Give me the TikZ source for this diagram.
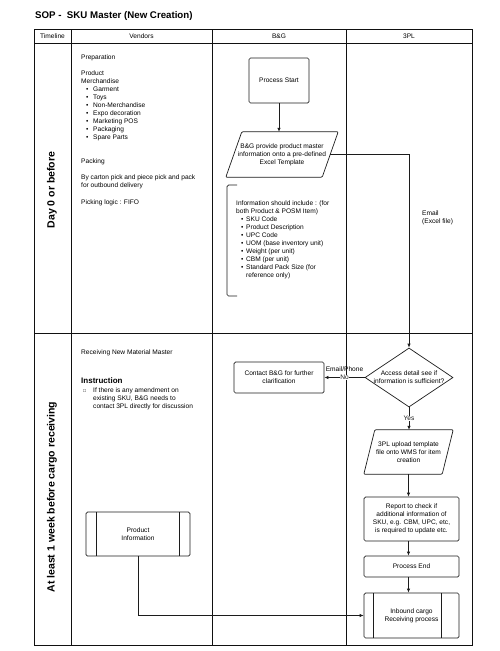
\documentclass[tikz,border=0pt]{standalone}
\usepackage{fontspec}
\setmainfont{Liberation Sans}
\usetikzlibrary{arrows.meta,positioning,calc,shapes.geometric}
\definecolor{LaneInk}{HTML}{111111}
\definecolor{ShapeInk}{HTML}{1C1C1C}
\newcommand{\itm}[2][7pt]{\hspace*{5pt}\makebox[#1][l]{\textbullet}#2}
\newcommand{\itmcont}[2][12pt]{\hspace*{#1}#2}
\newcommand{\ioframe}[2]{\draw[flow,rounded corners=1pt] ([xshift=#2]#1.north west)
  -- ([xshift=#2]#1.north east) -- ([xshift=-#2]#1.south east)
  -- ([xshift=-#2]#1.south west) -- cycle;}

\begin{document}
\begin{tikzpicture}[x=1pt,y=-1pt,>={Latex[length=4pt,width=3.5pt]},
  every node/.style={font=\fontsize{6.6}{8}\selectfont},
  note/.style={anchor=north west,align=left,inner sep=0pt},
  lane/.style={LaneInk,line width=.8pt},
  flow/.style={ShapeInk,line width=.7pt},
  timelbl/.style={rotate=90,font=\bfseries\fontsize{10.5}{12}\selectfont},
  procbox/.style={draw=ShapeInk,line width=.7pt,rounded corners=1.5pt,align=center},
  iobox/.style={align=center,inner sep=1pt},
  subproc/.style 2 args={procbox,path picture={
    \draw[ShapeInk,line width=.7pt] ([xshift=#1]path picture bounding box.north west)
      -- ([xshift=#1]path picture bounding box.south west);
    \draw[ShapeInk,line width=.7pt] ([xshift=-#2]path picture bounding box.north east)
      -- ([xshift=-#2]path picture bounding box.south east);}},
  lbl/.style={fill=white,inner sep=.6pt}]
  \useasboundingbox (0,0) rectangle (500,651);

  \node[anchor=west,inner sep=0pt,font=\bfseries\fontsize{9.7}{11}\selectfont] (title) at (35,16)
    {SOP -\ \ SKU Master (New Creation)};

  % swimlanes
  \draw[lane] (34,29) rectangle (472,645);
  \draw[lane] (34,43) -- (472,43);
  \draw[lane] (34,333) -- (472,333);
  \foreach \x in {71,212,346}
    \draw[lane] (\x,29) -- (\x,645);
  \node (hdtime) at (52.5,36) {Timeline};
  \node (hdvend) at (141.5,36) {Vendors};
  \node (hdbg) at (279,36) {B\&G};
  \node (hd3pl) at (409,36) {3PL};
  \node[timelbl] (dayzero) at (52,190) {Day 0 or before};
  \node[timelbl] (weekbefore) at (52,497) {At least 1 week before cargo receiving};

  % vendor notes
  \node[note] (vendnote) at (81,55) {Preparation\\[8pt]
    Product\\Merchandise\\\itm{Garment}\\\itm{Toys}\\\itm{Non-Merchandise}\\
    \itm{Expo decoration}\\\itm{Marketing POS}\\\itm{Packaging}\\\itm{Spare Parts}\\[16pt]
    Packing\\[8pt]
    By carton pick and piece pick and pack\\for outbound delivery\\[9pt]
    Picking logic : FIFO};
  \node[note] (recvnote) at (81,350) {Receiving New Material Master};
  \node[note,font=\bfseries\fontsize{8}{9}\selectfont] (instr) at (81,377) {Instruction};
  \node[note] (amend) at (81,388) {\makebox[12pt][l]{\hspace*{2pt}{\fontsize{5}{5}\selectfont □}}If there is any amendment on\\
    \itmcont{existing SKU, B\&G needs to}\\\itmcont{contact 3PL directly for discussion}};

  % B&G lane
  \node[procbox,minimum width=60,minimum height=45] (start) at (279,80.5) {Process Start};
  \node[iobox,minimum width=96,minimum height=45] (bginfo) at (282,154.5)
    {B\&G provide product master\\information onto a pre-defined\\Excel Template};
  \ioframe{bginfo}{8pt}
  \node[note] (infolist) at (236,201) {Information should include : (for\\both Product \& POSM Item)\\
    \itm[5pt]{SKU Code}\\\itm[5pt]{Product Description}\\\itm[5pt]{UPC Code}\\
    \itm[5pt]{UOM (base inventory unit)}\\\itm[5pt]{Weight (per unit)}\\\itm[5pt]{CBM (per unit)}\\
    \itm[5pt]{Standard Pack Size (for}\\\itmcont[10pt]{reference only)}};
  \draw[flow,rounded corners=1.5pt] (237,185) -- (227,185) -- (227,296) -- (237,296);
  \node[procbox,minimum width=90,minimum height=31] (contact) at (279,377.5)
    {Contact B\&G for further\\clarification};

  % 3PL lane
  \node[draw=ShapeInk,line width=.7pt,diamond,aspect=1.5,inner sep=0pt,align=center,
    minimum width=88,minimum height=59] (check) at (409,377.5)
    {\makebox[44pt]{Access detail see if}\\\makebox[44pt]{information is sufficient?}};
  \node[iobox,minimum width=78,minimum height=44] (upload) at (408.5,452)
    {3PL upload template\\file onto WMS for item\\creation};
  \ioframe{upload}{5.5pt}
  \node[procbox,minimum width=95,minimum height=44] (report) at (411.5,519)
    {Report to check if\\additional information of\\SKU, e.g. CBM, UPC, etc,\\is required to update etc.};
  \node[procbox,minimum width=95,minimum height=21] (pend) at (411.5,566.5) {Process End};
  \node[subproc={9pt}{18pt},minimum width=95,minimum height=45] (inbound) at (411.5,615.5)
    {Inbound cargo\\Receiving process};
  \node[subproc={10pt}{11pt},minimum width=104,minimum height=44] (prodinfo) at (138,534)
    {Product\\Information};
  \node[note] (emaillbl) at (422,211) {Email\\(Excel file)};

  % connectors
  \draw[flow,->] (start.south) -- (start.south |- bginfo.north);
  \draw[flow,->] (bginfo.east) -| (check.north);
  \draw[flow,->] (check.west) -- node[lbl] (nolbl) {No} (contact.east);
  \node[above=2pt of nolbl,inner sep=0pt] (phonelbl) {Email/Phone};
  \draw[flow,->] (check.south) -- node[lbl] (yeslbl) {Yes} (check.south |- upload.north);
  \draw[flow,->] (upload.south) -- (upload.south |- report.north);
  \draw[flow,->] (upload.south |- report.south) -- (upload.south |- pend.north);
  \draw[flow,->] (upload.south |- pend.south) -- (upload.south |- inbound.north);
  \draw[flow,->] (prodinfo.south) |- (inbound.west);
\end{tikzpicture}
\end{document}
